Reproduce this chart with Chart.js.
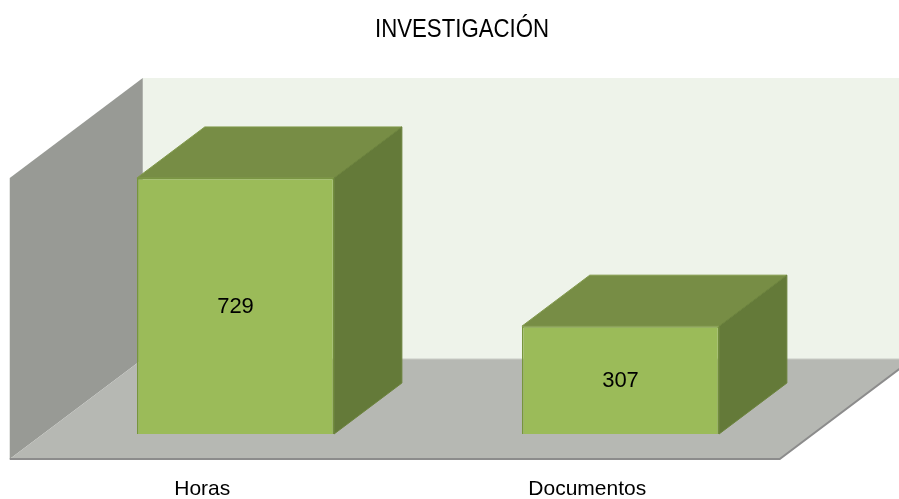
<!DOCTYPE html>
<html>
<head>
<meta charset="utf-8">
<script src="https://cdn.jsdelivr.net/npm/chart.js@4.4.0/dist/chart.umd.min.js"></script>
<style>
  html, body { margin: 0; padding: 0; background: #fff; }
  #wrap { width: 899px; height: 499px; }
</style>
</head>
<body>
<div id="wrap"><canvas id="chart" width="899" height="499"></canvas></div>
<script>
const chartTitle = 'INVESTIGACIÓN';
const categories = ['Horas', 'Documentos'];
const values = [729, 307];
const axisMax = 800;

// 3d look, in pixels
const depthX = 133, depthY = -100;   // full depth of the floor
const frontGap = 0.25;               // bars sit this far back on the floor
const barDepth = 0.51;               // depth of each box
const font = '"Liberation Sans", Arial, sans-serif';

function poly(ctx, pts, fill, stroke, lw) {
  ctx.beginPath();
  ctx.moveTo(pts[0][0], pts[0][1]);
  for (let i = 1; i < pts.length; i++) ctx.lineTo(pts[i][0], pts[i][1]);
  ctx.closePath();
  ctx.fillStyle = fill;
  ctx.fill();
  if (stroke) {
    ctx.strokeStyle = stroke;
    ctx.lineWidth = lw || 1;
    ctx.stroke();
  }
}

const plot3d = {
  id: 'plot3d',
  beforeDatasetsDraw(chart) {
    const ctx = chart.ctx;
    const xs = chart.scales.x, ys = chart.scales.y;
    const fx = -depthX * frontGap, fy = -depthY * frontGap;
    const l = xs.left + fx, r = xs.right + fx;
    const b = ys.getPixelForValue(0) + fy;
    const t = ys.getPixelForValue(axisMax) + fy;
    ctx.save();
    // back wall
    poly(ctx, [[l + depthX, t + depthY], [r + depthX, t + depthY], [r + depthX, b + depthY], [l + depthX, b + depthY]], '#eef3ea');
    // side wall
    poly(ctx, [[l, t], [l + depthX, t + depthY], [l + depthX, b + depthY], [l, b]], '#989a95');
    // floor
    poly(ctx, [[l, b], [r, b], [r + depthX, b + depthY], [l + depthX, b + depthY]], '#b6b8b3');
    ctx.strokeStyle = '#c9cbc6';
    ctx.lineWidth = 1;
    ctx.beginPath();
    ctx.moveTo(l + depthX, b + depthY);
    ctx.lineTo(r + depthX, b + depthY);
    ctx.stroke();
    ctx.strokeStyle = '#8c8c8c';
    ctx.lineWidth = 2;
    ctx.beginPath();
    ctx.moveTo(l, b);
    ctx.lineTo(r, b);
    ctx.lineTo(r + depthX, b + depthY);
    ctx.stroke();
    ctx.restore();
  },
  afterDatasetsDraw(chart) {
    const ctx = chart.ctx;
    const xs = chart.scales.x, ys = chart.scales.y;
    const dx = depthX * barDepth, dy = depthY * barDepth;
    ctx.save();
    chart.getDatasetMeta(0).data.forEach((bar, i) => {
      const left = bar.x - bar.width / 2, right = bar.x + bar.width / 2;
      const top = bar.y, base = bar.base;
      poly(ctx, [[left, top], [right, top], [right + dx, top + dy], [left + dx, top + dy]], '#778d45', '#81994b', 1);
      poly(ctx, [[right, top], [right + dx, top + dy], [right + dx, base + dy], [right, base]], '#647a39', '#6c833d', 1);
      ctx.fillStyle = '#000';
      ctx.font = '22px ' + font;
      ctx.textAlign = 'center';
      ctx.textBaseline = 'middle';
      ctx.fillText(String(values[i]), bar.x, (top + base) / 2 + 1);
      // category label sits at the front edge of the floor
      ctx.font = '21px ' + font;
      ctx.textBaseline = 'alphabetic';
      ctx.fillText(categories[i], bar.x - depthX * frontGap, ys.getPixelForValue(0) - depthY * frontGap + 36);
    });
    // title
    ctx.font = '25px ' + font;
    ctx.textAlign = 'left';
    ctx.textBaseline = 'alphabetic';
    const w = ctx.measureText(chartTitle).width;
    const k = 174 / w;
    ctx.translate(462 - 87, 37);
    ctx.scale(k, 1);
    ctx.fillText(chartTitle, 0, 0);
    ctx.restore();
  }
};

new Chart(document.getElementById('chart'), {
  type: 'bar',
  data: {
    labels: categories,
    datasets: [{
      data: values,
      backgroundColor: '#9bbb59',
      borderColor: '#77953c',
      borderWidth: 1.5,
      barPercentage: 0.512,
      categoryPercentage: 1
    }]
  },
  options: {
    responsive: false,
    animation: false,
    layout: { padding: { left: 43, right: 86, top: 153, bottom: 65 } },
    plugins: {
      legend: { display: false },
      tooltip: { enabled: false },
      title: { display: false }
    },
    scales: {
      x: { display: false },
      y: { display: false, min: 0, max: axisMax }
    }
  },
  plugins: [plot3d]
});
</script>
</body>
</html>
